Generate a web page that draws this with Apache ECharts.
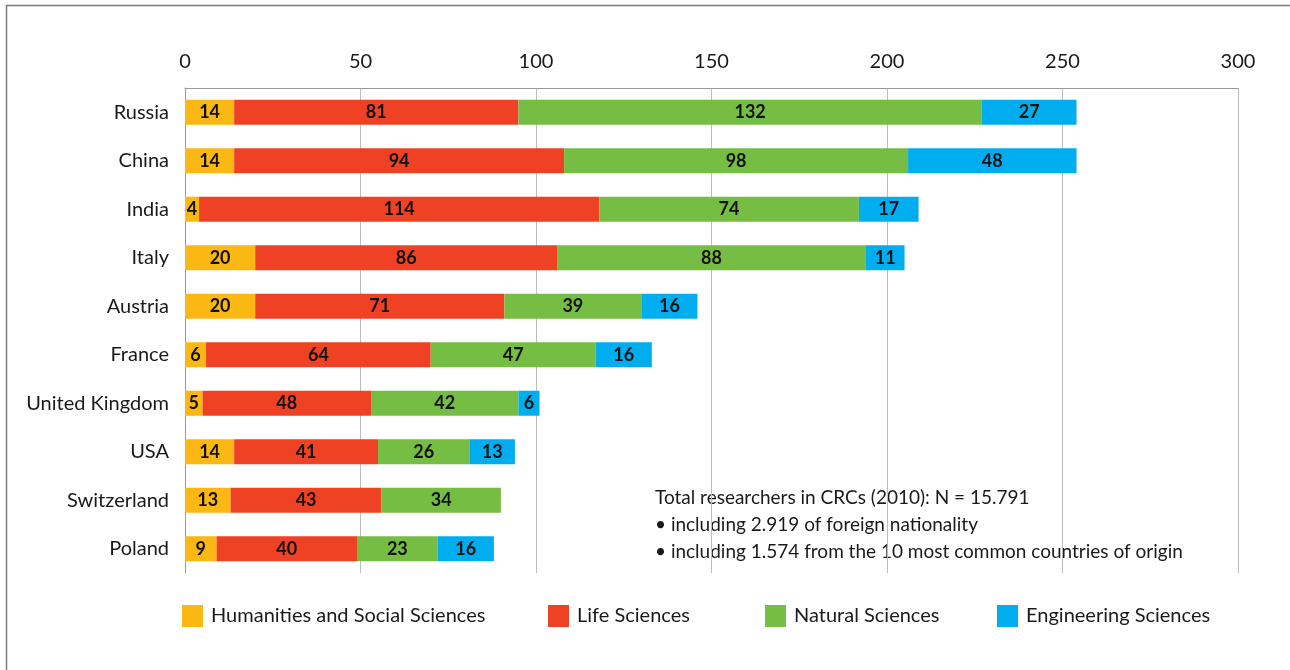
<!DOCTYPE html>
<html>
<head>
<meta charset="utf-8">
<script src="https://cdn.jsdelivr.net/npm/echarts@6/dist/echarts.min.js"></script>
<style>
  html, body { margin: 0; padding: 0; background: #fff; }
  #chart { width: 1290px; height: 670px; }
</style>
</head>
<body>
<div id="chart"></div>
<script>
// Countries of origin of foreign researchers, split by research field
const countries = ['Russia', 'China', 'India', 'Italy', 'Austria', 'France', 'United Kingdom', 'USA', 'Switzerland', 'Poland'];
const humanities = [14, 14, 4, 20, 20, 6, 5, 14, 13, 9];
const lifeSciences = [81, 94, 114, 86, 71, 64, 48, 41, 43, 40];
const naturalSciences = [132, 98, 74, 88, 39, 47, 42, 26, 34, 23];
const engineering = [27, 48, 17, 11, 16, 16, 6, 13, null, 16];
const xTicks = { min: 0, max: 300, step: 50 };
const noteLines = [
  'Total researchers in CRCs (2010): N = 15.791',
  '\u2022 including 2.919 of foreign nationality',
  '\u2022 including 1.574 from the 10 most common countries of origin'
];

const FONT = 'Lato';
const fields = [
  { name: 'Humanities and Social Sciences', data: humanities, color: '#FBB713', legendX: 182 },
  { name: 'Life Sciences', data: lifeSciences, color: '#EF4124', legendX: 548 },
  { name: 'Natural Sciences', data: naturalSciences, color: '#76BD43', legendX: 765 },
  { name: 'Engineering Sciences', data: engineering, color: '#00AEEF', legendX: 997 }
];

const chart = echarts.init(document.getElementById('chart'));

chart.setOption({
  backgroundColor: '#fff',
  animation: false,
  textStyle: { fontFamily: FONT },
  grid: { left: 185, right: 52, top: 88, bottom: 97, containLabel: false },
  xAxis: {
    type: 'value',
    position: 'top',
    min: xTicks.min,
    max: xTicks.max,
    interval: xTicks.step,
    axisLine: { show: true, lineStyle: { color: '#9a9a9a', width: 1 } },
    axisTick: { show: false },
    splitLine: { show: true, lineStyle: { color: '#bdbdbd', width: 1 } },
    axisLabel: { fontSize: 20, color: '#1a1a1a', margin: 16, fontFamily: FONT }
  },
  yAxis: {
    type: 'category',
    inverse: true,
    data: countries,
    axisLine: { show: true, lineStyle: { color: '#9a9a9a', width: 1 } },
    axisTick: { show: false },
    axisLabel: { fontSize: 20, color: '#1a1a1a', margin: 16, fontFamily: FONT }
  },
  legend: fields.map(f => ({
    data: [f.name],
    left: f.legendX,
    top: 605,
    itemWidth: 21,
    itemHeight: 22,
    itemGap: 0,
    padding: 0,
    icon: 'rect',
    textStyle: { fontSize: 20, color: '#1a1a1a', fontFamily: FONT, padding: [0, 0, 0, 3] }
  })),
  series: fields.map(f => ({
    name: f.name,
    type: 'bar',
    stack: 'total',
    barWidth: 25,
    data: f.data,
    itemStyle: { color: f.color },
    label: {
      show: true,
      position: 'inside',
      color: '#111',
      fontWeight: 'bold',
      fontSize: 18,
      fontFamily: FONT,
      formatter: p => (p.value == null ? '' : String(p.value))
    }
  })),
  graphic: [
    {
      type: 'rect',
      silent: true,
      shape: { x: 6.5, y: 5.5, width: 1400, height: 800 },
      style: { fill: 'none', stroke: '#7a7a7a', lineWidth: 1.5 }
    },
    {
      type: 'text',
      left: 655,
      top: 484,
      silent: true,
      style: {
        text: noteLines.join('\n'),
        fontSize: 19,
        lineHeight: 27,
        fill: '#1a1a1a',
        fontFamily: FONT
      }
    }
  ]
});
</script>
</body>
</html>
